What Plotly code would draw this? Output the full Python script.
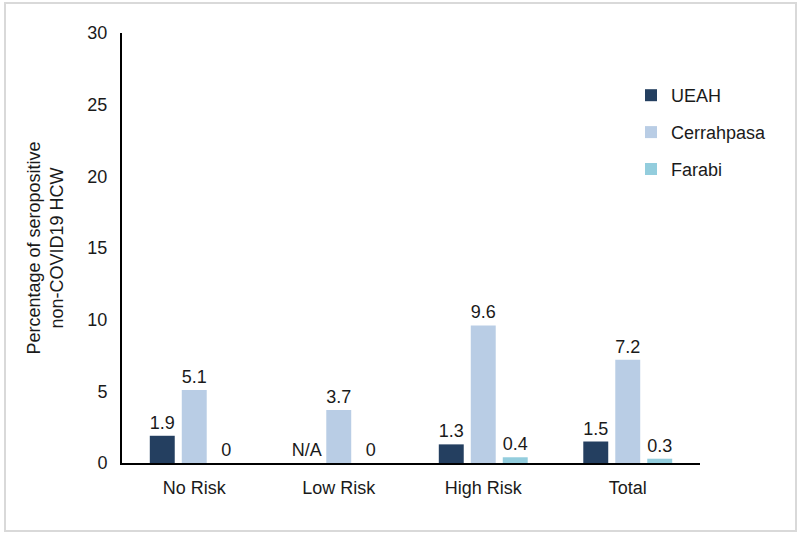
import plotly.graph_objects as go

categories = ["No Risk", "Low Risk", "High Risk", "Total"]
ueah = [1.9, None, 1.3, 1.5]
cerrahpasa = [5.1, 3.7, 9.6, 7.2]
farabi = [0, 0, 0.4, 0.3]

series_names = ["UEAH", "Cerrahpasa", "Farabi"]
series_values = [ueah, cerrahpasa, farabi]
series_colors = ["#243F60", "#B9CDE5", "#93CDDD"]

y_ticks = [0, 5, 10, 15, 20, 25, 30]
y_title = "Percentage of seropositive<br>non-COVID19 HCW"

FONT = "Liberation Sans, Arial, sans-serif"
TXT = "#1a1a1a"

fig = go.Figure()
for i, (name, vals, col) in enumerate(zip(series_names, series_values, series_colors)):
    yv = [v if v is not None else 0 for v in vals]
    tx = ["N/A" if v is None else f"{v:g}" for v in vals]
    fig.add_trace(go.Bar(
        x=categories, y=yv, name=name, text=tx,
        textposition="outside", cliponaxis=False, constraintext="none",
        textfont=dict(family=FONT, size=18, color=TXT),
        marker=dict(color=col, line=dict(width=26, color="rgba(0,0,0,0)")),
        legendgroup=name,
    ))

W, H = 800, 536
L, R, T, B = 122, 100, 33, 73
pw, ph = W - L - R, H - T - B

def px_x(x):
    return (x - L) / pw

def px_y(y):
    return (H - B - y) / ph

fig.update_layout(
    width=W, height=H,
    margin=dict(l=L, r=R, t=T, b=B),
    paper_bgcolor="white", plot_bgcolor="white",
    barmode="group", bargap=0.336, bargroupgap=0.22,
    font=dict(family=FONT, size=18, color=TXT),
    showlegend=True,
    legend=dict(
        x=px_x(631), y=px_y(77), xanchor="left", yanchor="top",
        traceorder="grouped", tracegroupgap=10.5,
        font=dict(family=FONT, size=18, color=TXT),
        bgcolor="rgba(0,0,0,0)",
    ),
    xaxis=dict(
        showline=True, linecolor="black", linewidth=2,
        showgrid=False, ticks="", ticklabelstandoff=7,
        tickfont=dict(family=FONT, size=18, color=TXT),
    ),
    yaxis=dict(
        range=[0, 30], tickvals=y_ticks,
        showline=True, linecolor="black", linewidth=2,
        showgrid=False, zeroline=False, ticks="", ticklabelstandoff=9,
        tickfont=dict(family=FONT, size=18, color=TXT),
        title=dict(text=y_title, font=dict(family=FONT, size=18, color=TXT), standoff=19),
    ),
    shapes=[dict(
        type="rect", xref="paper", yref="paper",
        x0=px_x(5), x1=px_x(796), y0=px_y(531), y1=px_y(3),
        line=dict(color="#D9D9D9", width=2), fillcolor="rgba(0,0,0,0)", layer="below",
    )],
)

fig.write_html("out.html", config={"displayModeBar": False},
               post_script="document.body.style.margin='0';")
